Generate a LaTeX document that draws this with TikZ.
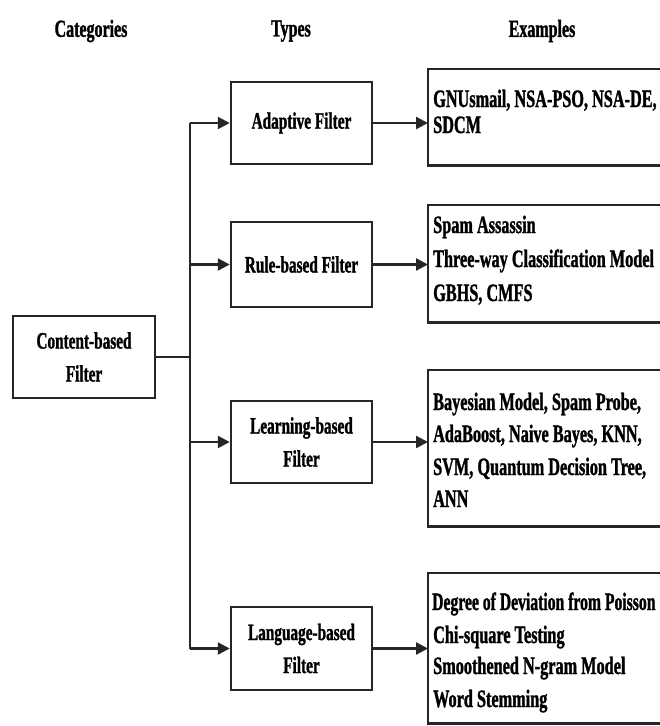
\documentclass[tikz,border=0pt]{standalone}
\usepackage{fontspec}
\setmainfont{Liberation Serif}
\newfontfamily\cf[FakeStretch=0.65,FakeBold=1.2]{Liberation Serif}
\usetikzlibrary{arrows.meta}
\begin{document}
\begin{tikzpicture}[x=1pt,y=-1pt,
  conn/.style={draw=black!85, line width=2.4pt},
  arr/.style={conn, -{Triangle[length=12pt,width=12pt]}},
  box/.style={draw=black!85, line width=2.5pt, fill=white, rectangle, inner sep=0pt},
  typebox/.style={box, minimum width=141pt, align=center,
    font=\cf\bfseries\fontsize{23.5}{33}\selectfont},
  exbox/.style={rectangle, inner sep=0pt, minimum width=240pt, anchor=north west},
  exside/.style={draw=black!85, line width=2.5pt},
  extext/.style={anchor=base west, inner sep=0pt, font=\cf\bfseries\fontsize{25}{30}\selectfont},
  head/.style={inner sep=0pt, font=\cf\bfseries\fontsize{24.6}{30}\selectfont}]
\useasboundingbox (0,0) rectangle (660,726);
\fill[white] (0,0) rectangle (660,726);

% headers
\node[head] (hcat) at (91,31) {Categories};
\node[head] (htyp) at (291,31) {Types};
\node[head] (hex) at (542,31) {Examples};

% category
\node[typebox, minimum width=142pt, minimum height=82pt] (content) at (84,357) {Content-based\\Filter};

% types
\node[typebox, minimum height=82pt] (adapt) at (301.5,123) {Adaptive Filter};
\node[typebox, minimum height=85pt] (rule) at (301.5,264.5) {Rule-based Filter};
\node[typebox, minimum height=82pt] (learn) at (301.5,442) {Learning-based\\Filter};
\node[typebox, minimum height=83pt] (lang) at (301.5,648.5) {Language-based\\Filter};

% example boxes (open on the right, running off the picture)
\node[exbox, minimum height=96pt] (ex1) at (428,69) {};
\node[exbox, minimum height=117pt] (ex2) at (428,205) {};
\node[exbox, minimum height=156pt] (ex3) at (428,370) {};
\node[exbox, minimum height=150pt] (ex4) at (428,573) {};
\foreach \b in {ex1,ex2,ex3,ex4}
  \draw[exside] (\b.north east) -- (\b.north west) -- (\b.south west) -- (\b.south east);

% example texts
\node[extext] (t1a) at (433,107) {GNUsmail, NSA-PSO, NSA-DE,};
\node[extext] (t1b) at (433,133) {SDCM};
\node[extext] (t2a) at (433,233) {Spam Assassin};
\node[extext] (t2b) at (433,267) {Three-way Classification Model};
\node[extext] (t2c) at (433,301) {GBHS, CMFS};
\node[extext] (t3a) at (433,410) {Bayesian Model, Spam Probe,};
\node[extext] (t3b) at (433,442) {AdaBoost, Naive Bayes, KNN,};
\node[extext] (t3c) at (433,475) {SVM, Quantum Decision Tree,};
\node[extext] (t3d) at (433,507) {ANN};
\node[extext] (t4a) at (432,610) {\scalebox{0.965}[1]{Degree of Deviation from Poisson}};
\node[extext] (t4b) at (433,643) {Chi-square Testing};
\node[extext] (t4c) at (433,674) {Smoothened N-gram Model};
\node[extext] (t4d) at (433,707) {Word Stemming};

% connectors
\coordinate (bartop) at (190,123);
\coordinate (barbot) at (190,648.5);
\coordinate (barmid) at (190,357);
\draw[conn] (content.east) -- (barmid);
\draw[conn] (bartop) -- (barbot);
\draw[arr] (bartop) -- (adapt.west);
\draw[arr] (190,264.5) -- (rule.west);
\draw[arr] (190,442) -- (learn.west);
\draw[arr] (barbot) -- (lang.west);
\draw[arr] (adapt.east) -- (adapt.east -| ex1.west);
\draw[arr] (rule.east) -- (rule.east -| ex2.west);
\draw[arr] (learn.east) -- (learn.east -| ex3.west);
\draw[arr] (lang.east) -- (lang.east -| ex4.west);
\end{tikzpicture}
\end{document}
